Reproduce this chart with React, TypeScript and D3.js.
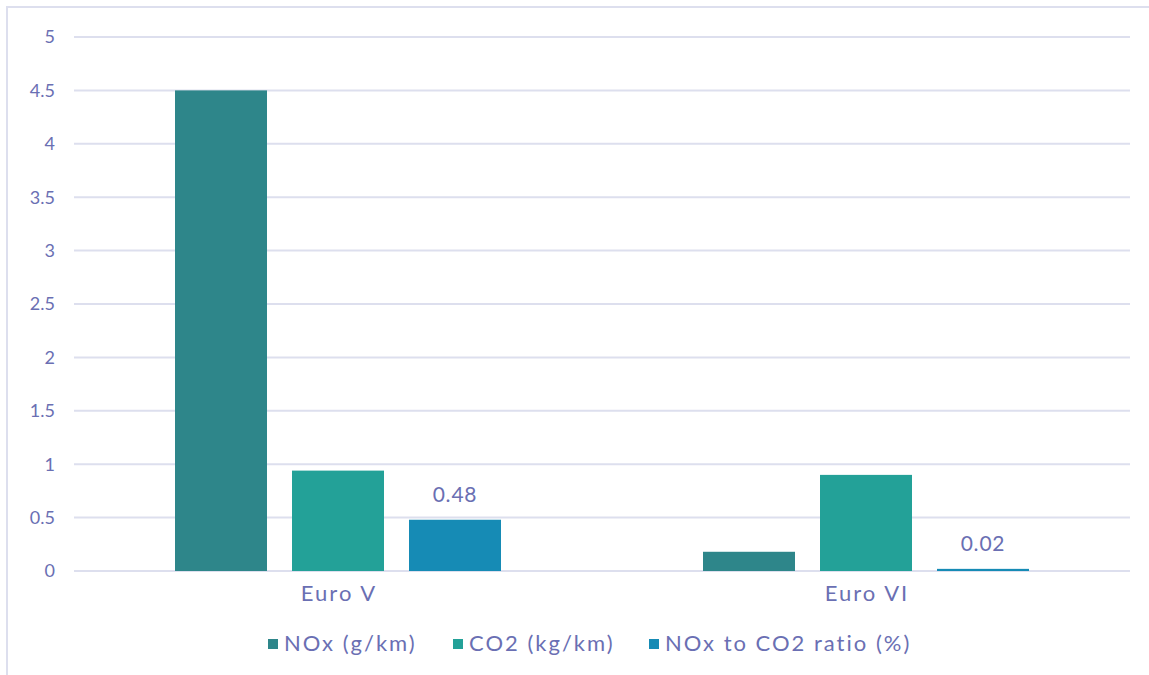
import React from "react";
import * as d3 from "d3";

const categories = ["Euro V", "Euro VI"];
const seriesNames = ["NOx (g/km)", "CO2 (kg/km)", "NOx to CO2 ratio (%)"];
const noxValues = [4.5, 0.18];
const co2Values = [0.94, 0.9];
const ratioValues = [0.48, 0.02];
const yTicks = [0, 0.5, 1, 1.5, 2, 2.5, 3, 3.5, 4, 4.5, 5];
const colors = ["#2E868A", "#23A198", "#168BB5"];

const W = 1149;
const H = 675;
const TEXT = "#6A6FB3";
const GRID = "#DDDFEE";
const FONT = "Lato, 'Open Sans', sans-serif";

export default function App() {
  const series = [noxValues, co2Values, ratioValues];
  const x0 = d3.scaleBand().domain(categories).range([74, 1130]);
  const y = d3.scaleLinear().domain([0, 5]).range([571, 37]);
  const barW = 92;
  const gap = 25;
  const groupW = series.length * barW + (series.length - 1) * gap;

  // legend swatch positions
  const legendX = [268, 453, 649];

  return (
    <svg
      width={W}
      height={H}
      style={{ position: "absolute", left: 0, top: 0, background: "#fff" }}
      fontFamily={FONT}
    >
      <rect x={7} y={7} width={W + 10} height={H + 10} fill="none" stroke={GRID} strokeWidth={2} />
      {yTicks.map((t) => (
        <g key={t}>
          <line x1={74} x2={1130} y1={y(t)} y2={y(t)} stroke={GRID} strokeWidth={2} />
          <text x={55} y={y(t)} dy="0.35em" textAnchor="end" fontSize={18} fill={TEXT}>
            {t}
          </text>
        </g>
      ))}
      {categories.map((c, ci) => {
        const cx = (x0(c) as number) + x0.bandwidth() / 2;
        const start = cx - groupW / 2;
        return (
          <g key={c}>
            {series.map((vals, si) => {
              const bx = start + si * (barW + gap);
              const v = vals[ci];
              const top = y(v);
              return (
                <g key={si}>
                  <rect
                    x={bx}
                    y={top}
                    width={barW}
                    height={Math.max(y(0) - top, 1.5)}
                    fill={colors[si]}
                  />
                  {si === 2 && (
                    <text
                      x={bx + barW / 2}
                      y={top - 18}
                      textAnchor="middle"
                      fontSize={21}
                      letterSpacing={0.8}
                      fill={TEXT}
                    >
                      {v.toFixed(2)}
                    </text>
                  )}
                </g>
              );
            })}
            <text
              x={cx + 1}
              y={601}
              textAnchor="middle"
              fontSize={22}
              letterSpacing={2}
              fill={TEXT}
            >
              {c}
            </text>
          </g>
        );
      })}
      {seriesNames.map((n, i) => (
        <g key={n}>
          <rect x={legendX[i]} y={639} width={10} height={10} fill={colors[i]} />
          <text x={legendX[i] + 16} y={651} fontSize={22} letterSpacing={2} fill={TEXT}>
            {n}
          </text>
        </g>
      ))}
    </svg>
  );
}
